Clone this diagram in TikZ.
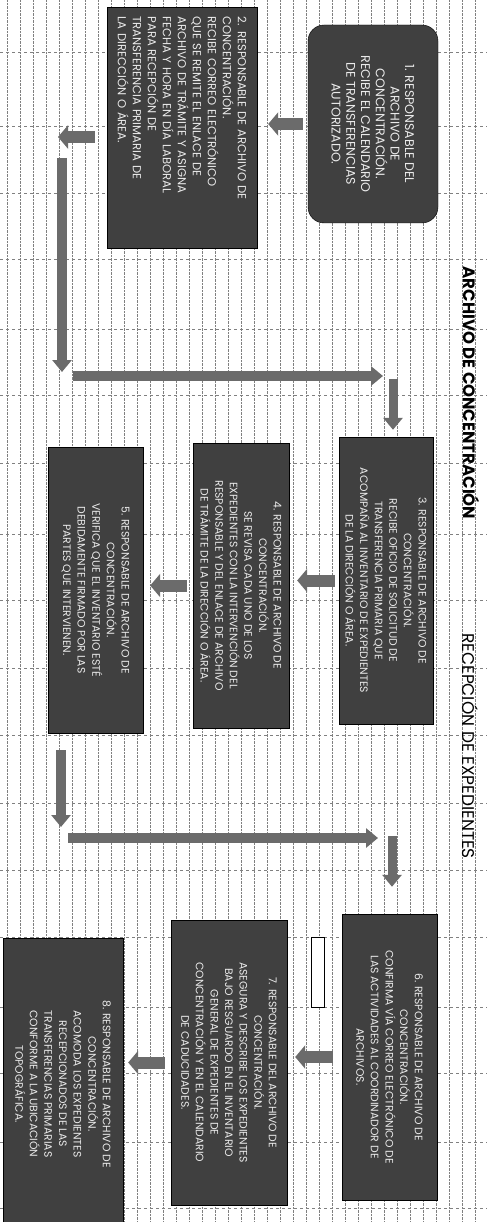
\documentclass[tikz,border=0pt]{standalone}
\usepackage{fontspec}
\setmainfont{Poppins}
\usetikzlibrary{arrows.meta,calc}

\tikzset{
  paso/.style={draw=black, fill=black!75, text=white!92!black, rotate=-90,
    align=center, inner sep=2pt, font=\fontsize{10.8}{14.6}\selectfont},
  flecha/.style={draw=black!58, line width=12pt,
    -{Triangle[length=10pt,width=23pt]}},
  guia/.style={draw=black!58, line width=10pt,
    -{Triangle[length=12pt,width=19pt]}},
  titulo/.style={rotate=-90, inner sep=0pt, font=\fontsize{17}{19}\selectfont},
  rejilla/.style={black!50, line width=0.4pt, densely dotted}
}

\begin{document}
\begin{tikzpicture}[x=1pt,y=-1pt]
\useasboundingbox (0,0) rectangle (487,1222);
\clip (0,0) rectangle (487,1222);

% rejilla de la hoja
\foreach \x in {7,20,...,480}
  \draw[rejilla] (\x,0) -- (\x,1222);
\foreach \y in {52,126,193,259,329,395,463,534,600,668,735,803,870,937,1007,1073,1142,1208}
  \draw[rejilla, dashed] (0,\y) -- (487,\y);

% titulos
\node[titulo, font=\fontsize{16.5}{19}\selectfont\bfseries] (tit1) at (471,393) {ARCHIVO DE CONCENTRACIÓN};
\node[titulo] (tit2) at (470,746) {RECEPCIÓN DE EXPEDIENTES};

% pasos
\node[paso, rounded corners=16pt, minimum width=198pt, minimum height=130pt,
  font=\fontsize{12.6}{14.7}\selectfont] (b1) at (373,124)
  {1. RESPONSABLE DEL\\ARCHIVO DE\\CONCENTRACIÓN.\\RECIBE EL CALENDARIO\\DE TRANSFERENCIAS\\AUTORIZADO.};
\node[paso, align=left, text width=222pt, minimum width=241pt, minimum height=150pt,
  inner xsep=9pt, font=\fontsize{11.6}{15}\selectfont] (b2) at (182,127.5)
  {2. RESPONSABLE DE ARCHIVO DE\\CONCENTRACIÓN.\\RECIBE CORREO ELECTRÓNICO\\QUE SE REMITE EL ENLACE DE\\ARCHIVO DE TRÁMITE Y ASIGNA\\FECHA Y HORA EN DÍA LABORAL\\PARA RECEPCIÓN DE\\TRANSFERENCIA PRIMARIA DE\\LA DIRECCIÓN O ÁREA.};
\node[paso, minimum width=287pt, minimum height=94pt] (b3) at (386,580.5)
  {3. RESPONSABLE DE ARCHIVO DE\\CONCENTRACIÓN.\\RECIBE OFICIO DE SOLICITUD DE\\TRANSFERENCIA PRIMARIA QUE\\ACOMPAÑA AL INVENTARIO DE EXPEDIENTES\\DE LA DIRECCIÓN O ÁREA.};
\node[paso, minimum width=285pt, minimum height=96pt] (b4) at (241,585.5)
  {4. RESPONSABLE DE ARCHIVO DE\\CONCENTRACIÓN.\\SE REVISA CADA UNO DE LOS\\EXPEDIENTES CON LA INTERVENCIÓN DEL\\RESPONSABLE Y DEL ENLACE DE ARCHIVO\\DE TRÁMITE DE LA DIRECCIÓN O ÁREA.};
\node[paso, minimum width=286pt, minimum height=95pt] (b5) at (95.5,590)
  {5. RESPONSABLE DE ARCHIVO DE\\CONCENTRACIÓN.\\VERIFICA QUE EL INVENTARIO ESTÉ\\DEBIDAMENTE FIRMADO POR LAS\\PARTES QUE INTERVIENEN.};
\node[paso, minimum width=286pt, minimum height=95pt] (b6) at (389.5,1057)
  {6. RESPONSABLE DE ARCHIVO DE\\CONCENTRACIÓN.\\CONFIRMA VÍA CORREO ELECTRÓNICO DE\\LAS ACTIVIDADES AL COORDINADOR DE\\ARCHIVOS.};
\node[paso, minimum width=285pt, minimum height=116pt] (b7) at (229,1062.5)
  {7. RESPONSABLE DEL ARCHIVO DE\\CONCENTRACIÓN.\\ASEGURA Y DESCRIBE LOS EXPEDIENTES\\BAJO RESGUARDO EN EL INVENTARIO\\GENERAL DE EXPEDIENTES DE\\CONCENTRACIÓN Y EN EL CALENDARIO\\DE CADUCIDADES.};
\node[paso, minimum width=292pt, minimum height=120pt] (b8) at (63,1084)
  {8. RESPONSABLE DE ARCHIVO DE\\CONCENTRACIÓN.\\ACOMODA LOS EXPEDIENTES\\RECEPCIONADOS DE LAS\\TRANSFERENCIAS PRIMARIAS\\CONFORME A LA UBICACIÓN\\TOPOGRÁFICA.};

\node[draw=black, fill=white, line width=0.8pt, minimum width=13pt, minimum height=70pt, inner sep=0pt] (marca) at (317.5,972) {};

% puntos de las flechas largas
\coordinate (g1) at (58,137);
\coordinate (g2) at (62,158);
\coordinate (g3) at (62,372);
\coordinate (g4) at (73,376);
\coordinate (g5) at (383,376);
\coordinate (g6) at (393,379);
\coordinate (g7) at (61,750);
\coordinate (g8) at (61,827);
\coordinate (g9) at (68,838);
\coordinate (g10) at (378,838);
\coordinate (g11) at (392,836);

% flechas
\draw[flecha, shorten <=5pt, shorten >=11pt] (b1.south) -- (b1.south -| b2.north);
\draw[flecha, shorten <=12pt] (g1 -| b2.south) -- (g1);
\draw[guia] (g2) -- (g3);
\draw[guia] (g4) -- (g5);
\draw[guia, line width=9pt, shorten >=7pt] (g6) -- (g6 |- b3.west);
\draw[flecha, shorten <=4pt, shorten >=8pt] (b3.south) -- (b3.south -| b4.north);
\draw[flecha, shorten <=6pt, shorten >=7pt] (b4.south) -- (b4.south -| b5.north);
\draw[guia] (g7) -- (g8);
\draw[guia] (g9) -- (g10);
\draw[guia, line width=9pt, shorten >=27pt] (g11) -- (g11 |- b6.west);
\draw[flecha, shorten <=9pt, shorten >=8pt] (b6.south) -- (b6.south -| b7.north);
\draw[flecha, shorten <=6pt, shorten >=5pt] (b7.south) -- (b7.south -| b8.north);
\end{tikzpicture}
\end{document}
